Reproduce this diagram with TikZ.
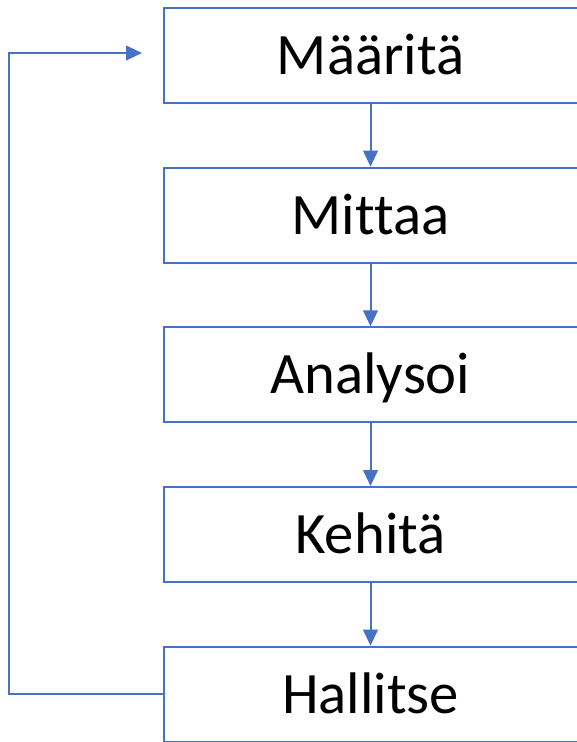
\documentclass[tikz,border=0pt]{standalone}
\usepackage{fontspec}
\setmainfont{Carlito}[Ligatures=NoCommon]
\usetikzlibrary{positioning,arrows.meta}
\definecolor{stepblue}{HTML}{4472C4}

\begin{document}
\begin{tikzpicture}[x=0.75pt,y=-0.75pt,>={Triangle[length=12pt,width=11pt]},node distance=47pt,
		phase/.style={draw=stepblue,line width=1.5pt,fill=white,minimum width=310.5pt,minimum height=71.25pt,
			inner sep=0pt,text height=36pt,text depth=7.5pt,font=\fontsize{44}{52}\selectfont},
		flow/.style={draw=stepblue,line width=1.5pt,->}]
		\useasboundingbox (0,0) rectangle (576,742);
		\node[phase] (maarita) at (370.5,55.5) {Määritä};
		\node[phase] (mittaa) [below=of maarita] {Mittaa};
		\node[phase] (analysoi) [below=of mittaa] {Analysoi};
		\node[phase] (kehita) [below=of analysoi] {Kehitä};
		\node[phase] (hallitse) [below=of kehita] {Hallitse};
		\coordinate (paluu) at (142,53);
	
		\draw 	(maarita) edge[flow] (mittaa)
				(mittaa) edge[flow] (analysoi)
				(analysoi) edge[flow] (kehita)
				(kehita) edge[flow] (hallitse);
		% paluu alusta uudelleen
		\draw[flow] (hallitse.west) -| (9,53) -- (paluu);
	\end{tikzpicture}
\end{document}
